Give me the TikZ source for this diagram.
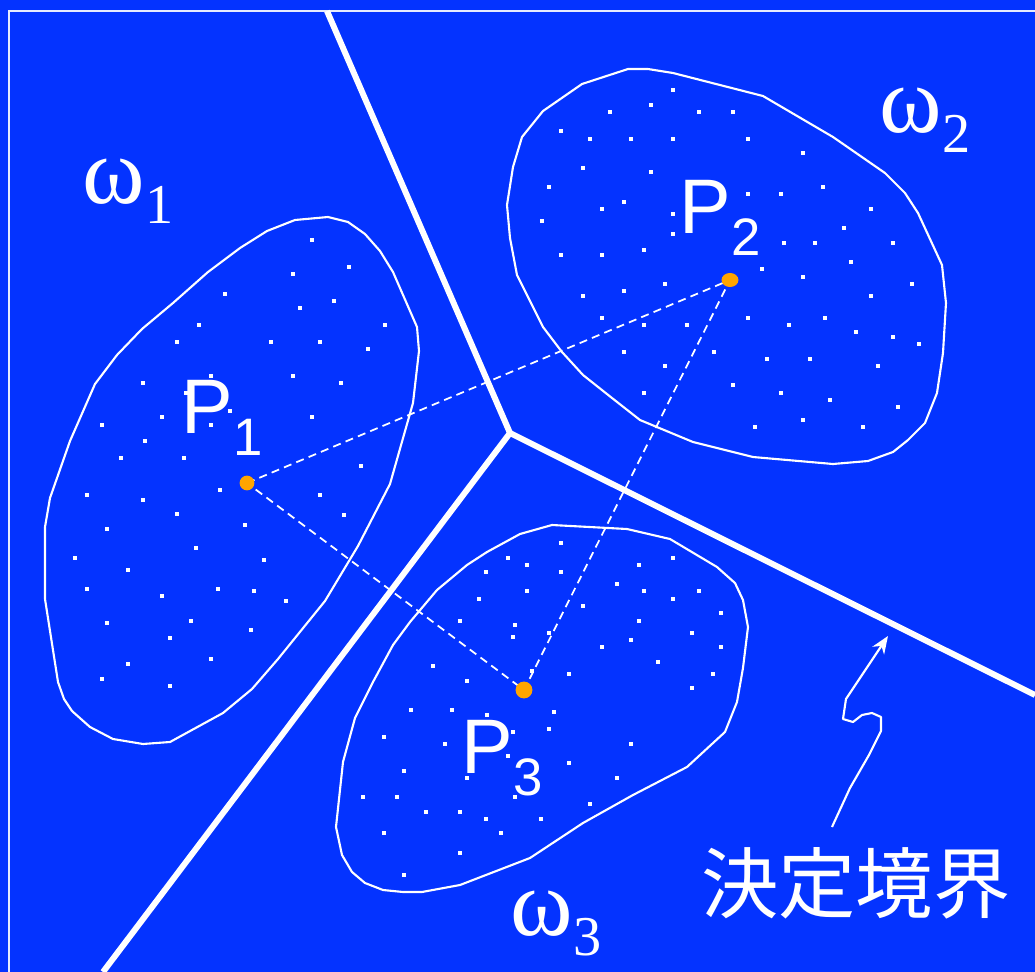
\documentclass[tikz,border=0pt]{standalone}
\usepackage{fontspec}
\setmainfont{Liberation Serif}
\newfontfamily\labelsans{Liberation Sans}
\newfontfamily\cjk{Noto Sans CJK JP}
\usepackage{tikz}
\usetikzlibrary{arrows.meta}
\definecolor{slideblue}{HTML}{0433FF}
\definecolor{centerorange}{HTML}{FFA500}

\begin{document}
\begin{tikzpicture}[x=0.01cm,y=-0.01cm,
  boundary/.style={white,line width=1.7pt},
  cluster/.style={white,line width=0.6pt,line join=round},
  link/.style={white,line width=0.5pt,dash pattern=on 2.3pt off 1.5pt},
  plabel/.style={anchor=base west,inner sep=0pt,text=white,font=\labelsans\fontsize{22}{22}\selectfont},
  wlabel/.style={anchor=base west,inner sep=0pt,text=white,font=\fontsize{27}{27}\selectfont}]

  % Hintergrund und Rahmen
  \fill[slideblue] (0,0) rectangle (1035,972);
  \useasboundingbox (0,0) rectangle (1035,972);
  \draw[white!90!slideblue,line width=0.55pt] (9,972) -- (9,11) -- (1035,11);

  % Klassen (Umrisse)
  \draw[cluster] (295,220) -- (328,217) -- (348,222) -- (365,234) -- (380,251) -- (393,272) -- (417,327) -- (419,351) -- (413,403) -- (390,484) -- (358,546) -- (325,601) -- (278,659) -- (252,689) -- (223,713) -- (170,742) -- (143,744) -- (113,739) -- (90,727) -- (72,711) -- (64,699) -- (58,682) -- (45,599) -- (45,527) -- (50,498) -- (70,441) -- (95,384) -- (117,355) -- (142,329) -- (173,303) -- (208,272) -- (240,248) -- (267,231) -- cycle;
  \draw[cluster] (628,69) -- (648,69) -- (673,73) -- (763,96) -- (833,137) -- (885,173) -- (905,193) -- (918,213) -- (942,265) -- (946,303) -- (943,353) -- (937,393) -- (925,423) -- (908,440) -- (893,452) -- (868,461) -- (833,464) -- (753,457) -- (693,442) -- (640,420) -- (612,398) -- (583,375) -- (562,352) -- (543,327) -- (517,275) -- (510,238) -- (507,205) -- (513,167) -- (522,137) -- (543,111) -- (582,84) -- cycle;
  \draw[cluster] (552,525) -- (627,529) -- (670,539) -- (717,567) -- (735,583) -- (743,600) -- (748,627) -- (743,668) -- (737,702) -- (725,732) -- (687,767) -- (633,795) -- (583,823) -- (530,858) -- (460,885) -- (422,892) -- (403,892) -- (383,890) -- (365,883) -- (352,872) -- (342,855) -- (336,827) -- (343,762) -- (355,718) -- (373,682) -- (393,645) -- (410,622) -- (437,590) -- (467,565) -- (487,552) -- (520,534) -- cycle;

  % Stichproben
  \foreach \x/\y in {312/240,349/267,293/274,225/294,334/301,300/308,199/325,385/325,177/342,271/342,320/342,368/349,293/376,143/383,211/376,341/383,186/393,162/417,230/411,312/417,102/425,211/425,145/441,121/458,184/458,361/466,220/490,87/495,320/495,143/500,177/514,344/515,107/529,245/525,196/548,75/558,264/560,128/570,87/589,218/589,254/591,162/596,286/601,107/623,191/621,170/638,251/630,128/664,211/659,102/679,170/686}
    \fill[white] (\x-2.4,\y-2.4) rectangle (\x+2.4,\y+2.4);
  \foreach \x/\y in {673/90,651/105,610/112,699/112,733/112,561/131,590/139,631/139,673/139,748/139,803/153,583/168,651/172,549/187,748/194,781/194,823/187,624/202,602/209,673/214,871/209,542/221,673/234,844/228,784/243,815/243,893/243,644/250,561/255,602/255,851/262,762/269,803/277,912/284,665/284,624/291,583/296,871/296,748/318,825/318,602/318,644/325,687/325,789/325,856/332,893/337,919/344,624/352,714/352,767/359,810/359,878/366,665/366,733/385,781/393,644/393,830/400,898/407,803/420,755/427,863/427}
    \fill[white] (\x-2.4,\y-2.4) rectangle (\x+2.4,\y+2.4);
  \foreach \x/\y in {561/543,508/558,527/565,486/572,561/572,639/565,673/558,617/584,644/591,699/591,527/591,479/599,673/599,583/606,721/613,460/621,639/621,515/625,549/633,513/637,692/633,631/640,602/647,721/647,658/662,433/666,532/671,569/674,713/674,467/681,692/688,411/710,452/710,487/715,554/712,549/729,513/732,384/737,445/744,631/744,508/756,569/763,404/771,467/778,617/778,363/797,397/797,515/797,590/804,426/812,460/812,486/819,541/819,384/833,501/833,460/853,404/875}
    \fill[white] (\x-2.4,\y-2.4) rectangle (\x+2.4,\y+2.4);

  % Entscheidungsgrenzen
  \coordinate (J) at (510,433);
  \coordinate (btop) at (327,11);
  \coordinate (bleft) at (103,972);
  \coordinate (bright) at (1035,695);
  \draw[boundary] (btop) -- (J) -- (bright);
  \draw[boundary] (J) -- (bleft);

  % Prototypen
  \coordinate (P1) at (247,483);
  \coordinate (P2) at (730,280);
  \coordinate (P3) at (524,690);
  \draw[link] (P1) -- (P2) -- (P3) -- (P1);
  \fill[centerorange] (P1) circle[radius=2.1pt];
  \fill[centerorange] (P2) ellipse[x radius=2.4pt,y radius=2pt];
  \fill[centerorange] (P3) circle[radius=2.4pt];

  % Beschriftung
  \node[plabel] (p1text) at (181,433) {P\raisebox{-6.3pt}{\fontsize{15}{15}\selectfont 1}};
  \node[plabel] (p2text) at (679,233) {P\raisebox{-6.3pt}{\fontsize{15}{15}\selectfont 2}};
  \node[plabel] (p3text) at (461,773) {P\raisebox{-6.3pt}{\fontsize{15}{15}\selectfont 3}};
  \node[wlabel] (w1text) at (82,203) {ω\raisebox{-5.8pt}{\fontsize{16}{16}\selectfont 1}};
  \node[wlabel] (w2text) at (879,132) {ω\raisebox{-5.8pt}{\fontsize{16}{16}\selectfont 2}};
  \node[wlabel] (w3text) at (510,935) {ω\raisebox{-5.8pt}{\fontsize{16}{16}\selectfont 3}};
  \node[anchor=base,inner sep=0pt,text=white,font=\cjk\fontsize{22}{22}\selectfont] (bndtext) at (856,912) {決定境界};

  % Pfeil zur Grenze
  \coordinate (tail) at (832,827);
  \coordinate (tip) at (888,636);
  \draw[white,line width=0.6pt,line join=round,-{Stealth[length=5pt,width=4pt]}] (tail) -- (850,788) -- (869,755) -- (881,731) -- (881,717) -- (872,713) -- (862,715) -- (853,722) -- (843,719) -- (846,699) -- (tip);
\end{tikzpicture}
\end{document}
